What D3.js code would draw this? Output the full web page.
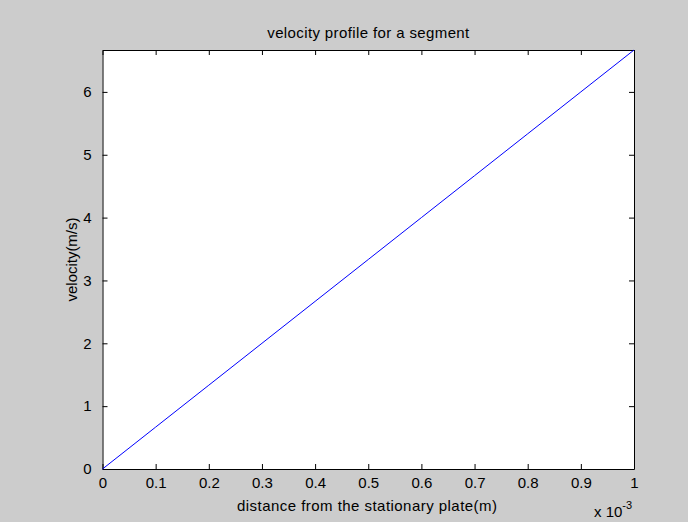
<!DOCTYPE html>
<html><head><meta charset="utf-8">
<script src="https://cdn.jsdelivr.net/npm/d3@7"></script>
<style>body{margin:0;background:#cccccc;}svg{display:block;}</style>
</head><body>
<script>
const distance = [0, 0.0001, 0.0002, 0.0003, 0.0004, 0.0005, 0.0006, 0.0007, 0.0008, 0.0009, 0.001];
const velocity = [0, 0.6667, 1.3333, 2.0, 2.6667, 3.3333, 4.0, 4.6667, 5.3333, 6.0, 6.6667];
const xTicks = [0, 0.0001, 0.0002, 0.0003, 0.0004, 0.0005, 0.0006, 0.0007, 0.0008, 0.0009, 0.001];
const xTickLabels = ["0","0.1","0.2","0.3","0.4","0.5","0.6","0.7","0.8","0.9","1"];
const yTicks = [0,1,2,3,4,5,6];

const W=688,H=522;
const L=102.5,R=634,T=50,B=469;
const FF="'Liberation Sans', Arial, sans-serif";
const svg=d3.select("body").append("svg").attr("width",W).attr("height",H)
  .style("font-family",FF);
svg.append("rect").attr("width",W).attr("height",H).attr("fill","#cccccc");
const x=d3.scaleLinear().domain([0,0.001]).range([L,R]);
const y=d3.scaleLinear().domain([0,6.6667]).range([B,T]);
svg.append("rect").attr("x",L).attr("y",T).attr("width",R-L).attr("height",B-T).attr("fill","#fff");

const fs=15;
const gx=svg.append("g").attr("transform",`translate(0,${B})`)
  .call(d3.axisBottom(x).tickValues(xTicks).tickFormat((d,i)=>xTickLabels[i]).tickSizeInner(-5).tickSizeOuter(0).tickPadding(8));
const gxt=svg.append("g").attr("transform",`translate(0,${T})`)
  .call(d3.axisTop(x).tickValues(xTicks).tickFormat("").tickSizeInner(-5).tickSizeOuter(0));
const gy=svg.append("g").attr("transform",`translate(${L},0)`)
  .call(d3.axisLeft(y).tickValues(yTicks).tickFormat(d3.format("d")).tickSizeInner(-5).tickSizeOuter(0).tickPadding(11));
const gyr=svg.append("g").attr("transform",`translate(${R},0)`)
  .call(d3.axisRight(y).tickValues(yTicks).tickFormat("").tickSizeInner(-5).tickSizeOuter(0));
[gx,gxt,gy,gyr].forEach(g=>{
  g.selectAll("path.domain").attr("stroke","#000").attr("stroke-width",1);
  g.selectAll("line").attr("stroke","#000");
  g.selectAll("text").attr("font-size",fs).attr("fill","#000").attr("font-family",FF);
});

svg.append("path").datum(distance.map((d,i)=>[d,velocity[i]]))
  .attr("fill","none").attr("stroke","#0000ff").attr("stroke-width",1)
  .attr("d",d3.line().x(d=>x(d[0])).y(d=>y(d[1])));

svg.append("text").attr("x",(L+R)/2).attr("y",37.5).attr("text-anchor","middle").attr("font-size",fs)
  .attr("textLength",202).attr("lengthAdjust","spacing").text("velocity profile for a segment");
svg.append("text").attr("x",367).attr("y",510.5).attr("text-anchor","middle").attr("font-size",fs)
  .attr("textLength",260).attr("lengthAdjust","spacing").text("distance from the stationary plate(m)");
svg.append("text").attr("transform",`translate(77,${(T+B)/2}) rotate(-90)`).attr("text-anchor","middle").attr("font-size",fs)
  .attr("textLength",84).attr("lengthAdjust","spacing").text("velocity(m/s)");
const ex=svg.append("text").attr("x",594).attr("y",517).attr("font-size",fs);
ex.append("tspan").text("x 10");
ex.append("tspan").attr("dy",-8).attr("font-size",11).text("-3");
</script>
</body></html>
